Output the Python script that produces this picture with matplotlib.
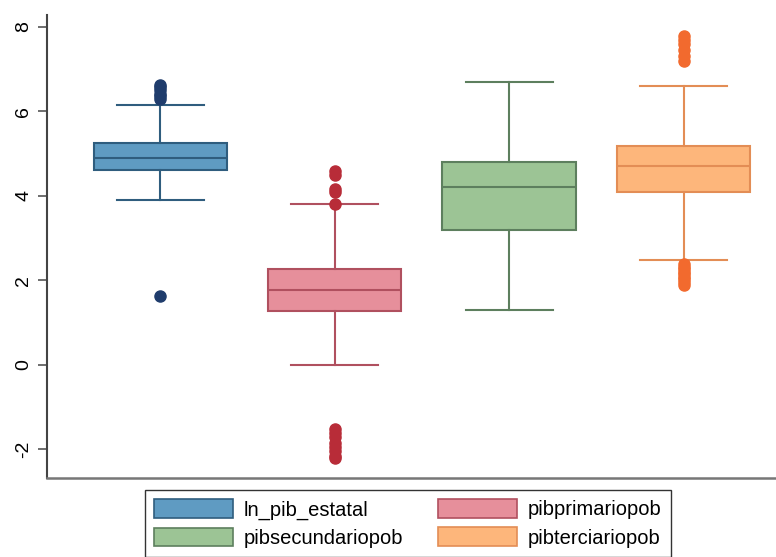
import numpy as np
import matplotlib
matplotlib.use("Agg")
import matplotlib.pyplot as plt
from matplotlib.patches import Patch

plt.rcParams['font.family'] = ['Liberation Sans', 'DejaVu Sans']
plt.rcParams['axes.unicode_minus'] = False

# Data
variables = ["ln_pib_estatal", "pibprimariopob", "pibsecundariopob", "pibterciariopob"]
medianas = [4.90, 1.78, 4.20, 4.70]
q1 = [4.60, 1.28, 3.18, 4.10]
q3 = [5.24, 2.27, 4.79, 5.19]
bigote_inf = [3.91, 0.00, 1.30, 2.49]
bigote_sup = [6.15, 3.80, 6.70, 6.60]
atipicos = [
    [1.62, 6.30, 6.36, 6.42, 6.50, 6.57, 6.63],
    [-2.20, -2.15, -2.05, -1.95, -1.85, -1.72, -1.62, -1.52, 3.80, 4.10, 4.17, 4.50, 4.58],
    [],
    [1.90, 1.96, 2.02, 2.08, 2.14, 2.20, 2.26, 2.32, 2.38, 7.20, 7.30, 7.45, 7.60, 7.70, 7.78],
]

# Couleurs
relleno = ["#5f9bc2", "#e68f9b", "#9cc495", "#fdb67b"]
borde = ["#2f5d7e", "#b0505f", "#5d7f5e", "#e38d55"]
puntos = ["#1f3c6c", "#b82c38", "#5d7f5e", "#f26a2e"]

fig = plt.figure(figsize=(7.76, 5.57), dpi=100)
ax = fig.add_axes([47/776, 1 - 478/557, 1 - 47/776, 463/557])

stats = []
for i in range(len(variables)):
    stats.append({"med": medianas[i], "q1": q1[i], "q3": q3[i],
                  "whislo": bigote_inf[i], "whishi": bigote_sup[i],
                  "fliers": atipicos[i], "label": variables[i]})

pos = [1, 2, 3, 4]
for i in range(len(variables)):
    ax.bxp([stats[i]], positions=[pos[i]], widths=0.765, patch_artist=True,
           showfliers=True,
           boxprops=dict(facecolor=relleno[i], edgecolor=borde[i], linewidth=1.5),
           medianprops=dict(color=borde[i], linewidth=1.5),
           whiskerprops=dict(color=borde[i], linewidth=1.5),
           capprops=dict(color=borde[i], linewidth=1.5),
           capwidths=0.5,
           flierprops=dict(marker="o", markerfacecolor=puntos[i],
                           markeredgecolor=puntos[i], markersize=8))

ax.set_xlim(0.35, 4.53)
ax.set_ylim(-2.68, 8.28)
ax.set_yticks([-2, 0, 2, 4, 6, 8])
ax.set_xticks([])
for t in ax.get_yticklabels():
    t.set_rotation(90)
    t.set_va("center")
ax.tick_params(axis="y", labelsize=14, length=6.5, width=1.2, color="#555555", pad=4)
ax.spines["top"].set_visible(False)
ax.spines["right"].set_visible(False)
ax.spines["left"].set_color("#444444")
ax.spines["left"].set_linewidth(1.5)
ax.spines["bottom"].set_color("#777777")
ax.spines["bottom"].set_linewidth(1.8)

# leyenda: filas como en el original (matplotlib llena por columnas)
orden = [0, 2, 1, 3]
handles = [Patch(facecolor=relleno[i], edgecolor=borde[i], linewidth=1.2) for i in orden]
etiquetas = [variables[i] for i in orden]
leg = fig.legend(handles, etiquetas, loc="upper left", ncol=2,
                 bbox_to_anchor=(145/776, 1 - 490/557), borderaxespad=0,
                 fontsize=14.5,
                 handlelength=3.9, handleheight=1.05, handletextpad=0.55,
                 columnspacing=1.75, labelspacing=0.4, borderpad=0.45,
                 fancybox=False, edgecolor="#333333", framealpha=1)
leg.get_frame().set_linewidth(1.0)

fig.savefig("out.png", dpi=100)
